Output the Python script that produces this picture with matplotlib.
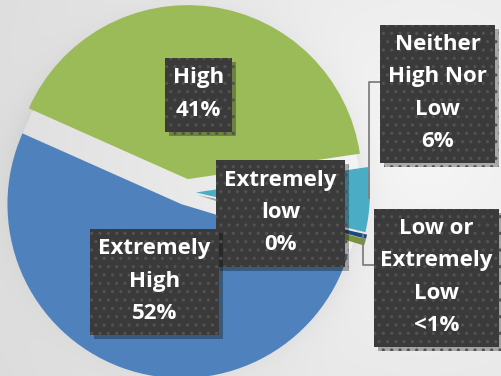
import numpy as np
import matplotlib
matplotlib.use("Agg")
from matplotlib import pyplot as plt
from matplotlib.patches import Rectangle
from matplotlib import patheffects as pe

plt.rcParams["font.family"] = ["Open Sans", "DejaVu Sans"]
plt.rcParams["hatch.linewidth"] = 1.1

# data, in clockwise order starting from the upper-left edge of "High"
labels = ["High", "Neither\nHigh Nor\nLow", "Extremely\nlow", "Low or\nExtremely\nLow", "Extremely\nHigh"]
values = [41, 6, 0.4, 0.6, 52]
pct_text = ["41%", "6%", "0%", "<1%", "52%"]
colors = ["#9bbb59", "#4bacc6", "#1f497d", "#77933c", "#4f81bd"]

W, H = 501, 376
fig = plt.figure(figsize=(W / 100, H / 100), dpi=100)
ax = fig.add_axes([0, 0, 1, 1])
ax.set_axis_off()

cx, cy, r = 186, H - 192, 174

# soft gray background, lighter towards the upper right, with a faint halo round the pie
yy, xx = np.mgrid[0:H, 0:W]
dist = np.hypot(xx - 420, yy - 150) / 520
bg = 0.965 - 0.11 * dist
dpie = np.hypot(xx - cx, (H - yy) - cy) - r
bg = bg - 0.05 * np.exp(-np.clip(dpie, 0, None) / 14) * (dpie > 0)
bg = np.clip(bg, 0, 1)
ax.imshow(np.dstack([bg, bg, bg]), extent=(0, W, 0, H), origin="upper", zorder=0)

# pie (clockwise, like the spreadsheet original); explode is in pixels here
wedges, _ = ax.pie(values, colors=colors, startangle=156, counterclock=False,
                   center=(cx, cy), radius=r, explode=[13, 10, 12, 12, 13],
                   wedgeprops=dict(linewidth=0), frame=True)
for w in wedges:
    w.set_zorder(2)

# label boxes: (left, top, right, bottom) in pixels from the top left
boxes = [(165, 58, 232, 132), (380, 25, 495, 163), (216, 160, 345, 267),
         (374, 209, 499, 347), (90, 229, 219, 335)]

for lab, pct, (x0, y0, x1, y1) in zip(labels, pct_text, boxes):
    rect = Rectangle((x0, H - y1), x1 - x0, y1 - y0, facecolor="#3a3a3a",
                     edgecolor="#525252", hatch="..", linewidth=0, zorder=4)
    rect.set_path_effects([pe.SimplePatchShadow(offset=(3, -3), shadow_rgbFace="#000000", alpha=0.3),
                           pe.Normal()])
    ax.add_patch(rect)
    ax.text((x0 + x1) / 2, H - (y0 + y1) / 2 + 1, lab + "\n" + pct, ha="center", va="center",
            color="white", fontsize=16, fontweight="bold", linespacing=1.7, zorder=5)

# leader lines for the two small outer labels
ax.plot([380, 369, 369], [H - 82, H - 82, H - 198], color="#808080", lw=1.3, zorder=3)
ax.plot([374, 363, 363], [H - 265, H - 265, H - 235], color="#808080", lw=1.3, zorder=3)

ax.set_xlim(0, W)
ax.set_ylim(0, H)
ax.set_aspect("equal")
ax.set_axis_off()

fig.savefig("out.png", dpi=100)
